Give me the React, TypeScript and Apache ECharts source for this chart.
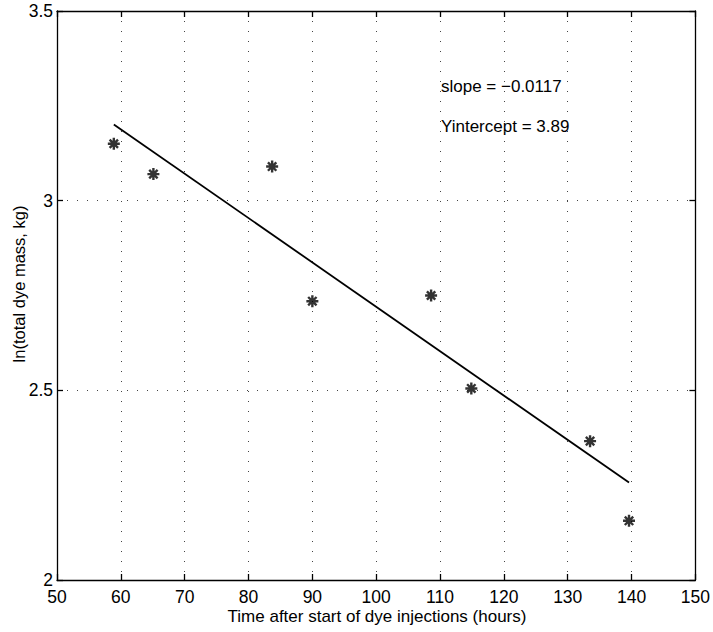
import React, { useEffect, useRef } from "react";
import * as echarts from "echarts";

const pointsX = [58.9, 65.1, 83.7, 90.0, 108.6, 114.9, 133.5, 139.6];
const pointsY = [3.15, 3.07, 3.09, 2.735, 2.75, 2.505, 2.366, 2.156];
const fitX = [58.9, 139.6];
const fitY = [3.201, 2.257];
const xTicks = [50, 60, 70, 80, 90, 100, 110, 120, 130, 140, 150];
const yTicks = [2, 2.5, 3, 3.5];
const annotations = ["slope = \u22120.0117", "Yintercept = 3.89"];
const xTitle = "Time after start of dye injections (hours)";
const yTitle = "ln(total dye mass, kg)";

const FONT = "'Liberation Sans', Arial, Helvetica, sans-serif";
const STAR = "path://M0,-10L0,10M-10,0L10,0M-7,-7L7,7M-7,7L7,-7";

export default function App() {
  const ref = useRef<HTMLDivElement>(null);
  useEffect(() => {
    if (!ref.current) return;
    document.body.style.margin = "0";
    document.body.style.overflow = "hidden";
    const chart = echarts.init(ref.current, undefined, { renderer: "svg" });
    const axisLine = { show: true, lineStyle: { color: "#000", width: 1.3 } };
    const tick = { show: true, inside: true, length: 6, lineStyle: { color: "#000", width: 1.3 } };
    const grid = { show: true, lineStyle: { color: "#444", width: 1, type: [1, 9] as any } };
    const label = { color: "#000", fontSize: 17.5, fontFamily: FONT, lineHeight: 13 };
    chart.setOption({
      animation: false,
      backgroundColor: "#fff",
      grid: { left: 57, right: 16, top: 11, bottom: 52, containLabel: false },
      xAxis: [
        {
          type: "value",
          min: 50,
          max: 150,
          interval: 10,
          position: "bottom",
          axisLine,
          axisTick: tick,
          splitLine: grid,
          axisLabel: { ...label, margin: 10, formatter: (v: number) => (xTicks.includes(v) ? String(v) : "") },
        },
        {
          type: "value",
          min: 50,
          max: 150,
          interval: 10,
          position: "top",
          axisLine,
          axisTick: tick,
          splitLine: { show: false },
          axisLabel: { show: false },
        },
      ],
      yAxis: [
        {
          type: "value",
          min: 2,
          max: 3.5,
          interval: 0.5,
          position: "left",
          axisLine,
          axisTick: tick,
          splitLine: grid,
          axisLabel: {
            ...label,
            margin: 4,
            formatter: (v: number) => (yTicks.includes(v) ? String(v) : ""),
          },
        },
        {
          type: "value",
          min: 2,
          max: 3.5,
          interval: 0.5,
          position: "right",
          axisLine,
          axisTick: tick,
          splitLine: { show: false },
          axisLabel: { show: false },
        },
      ],
      graphic: [
        {
          type: "text",
          x: 377,
          y: 616,
          style: {
            text: xTitle,
            fill: "#000",
            fontSize: 17,
            fontFamily: FONT,
            align: "center",
            verticalAlign: "middle",
          },
        },
        {
          type: "text",
          x: 19,
          y: 284,
          rotation: Math.PI / 2,
          style: {
            text: yTitle,
            fill: "#000",
            fontSize: 16.5,
            fontFamily: FONT,
            align: "center",
            verticalAlign: "middle",
          },
        },
        {
          type: "text",
          left: 441,
          top: 78,
          style: { text: annotations[0], fill: "#000", fontSize: 17, fontFamily: FONT },
        },
        {
          type: "text",
          left: 441,
          top: 118,
          style: { text: annotations[1], fill: "#000", fontSize: 17, fontFamily: FONT },
        },
      ],
      series: [
        {
          type: "line",
          data: fitX.map((x, i) => [x, fitY[i]]),
          showSymbol: false,
          lineStyle: { color: "#000", width: 1.8 },
          silent: true,
        },
        {
          type: "scatter",
          data: pointsX.map((x, i) => [x, pointsY[i]]),
          symbol: STAR,
          symbolSize: 12,
          itemStyle: { color: "none", borderColor: "#000", borderWidth: 2.4 },
        },
      ],
    });
    return () => chart.dispose();
  }, []);
  return (
    <div
      ref={ref}
      style={{ position: "fixed", left: 0, top: 0, width: 713, height: 632 }}
    />
  );
}
